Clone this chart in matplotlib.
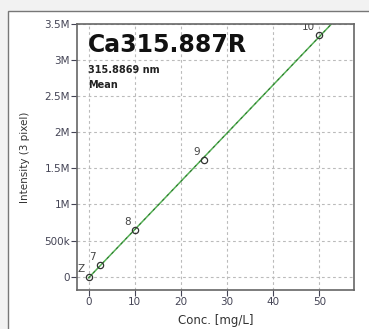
import numpy as np
import matplotlib.pyplot as plt
from matplotlib.patches import Rectangle

conc = [0, 2.5, 10, 25, 50]
intensity = [0, 0.155e6, 0.65e6, 1.615e6, 3.345e6]
labels = ["Z", "7", "8", "9", "10"]
yticks = [0, 0.5e6, 1e6, 1.5e6, 2e6, 2.5e6, 3e6, 3.5e6]
ytick_labels = ["0", "500k", "1M", "1.5M", "2M", "2.5M", "3M", "3.5M"]
xticks = [0, 10, 20, 30, 40, 50]

fig = plt.figure(figsize=(3.69, 3.29), dpi=100, facecolor="#f2f2f2")
fig.patches.append(Rectangle((8 / 369, -0.01), 1, 1.01 - 11 / 329, transform=fig.transFigure,
                             facecolor="white", edgecolor="#777777", lw=1.0, zorder=-5))
ax = fig.add_axes([77 / 369, 1 - 290 / 329, 277 / 369, 266 / 329])
ax.set_zorder(1)

# calibration fit through points
slope, icpt = np.polyfit(conc, intensity, 1)
xf = np.array([0, 57])
ax.plot(xf, slope * xf + icpt, color="#55b055", lw=1.1, zorder=2)
ax.plot(xf, slope * xf + icpt, color="#2a6a2a", lw=0.6, ls=(0, (3, 5)), zorder=3)
ax.plot(conc, intensity, "o", mfc="none", mec="#333333", ms=4.5, mew=0.9, zorder=4)
for x, y, t in zip(conc, intensity, labels):
    ax.annotate(t, (x, y), xytext=(-4, 3), textcoords="offset pixels", ha="right", va="bottom",
                fontsize=7.5, color="#444444", annotation_clip=False, clip_on=True)

ax.set_xlim(-2.5, 57.5)
ax.set_ylim(-0.185e6, 3.5e6)
ax.set_xticks(xticks)
ax.set_yticks(yticks)
ax.set_yticklabels(ytick_labels)
ax.tick_params(labelsize=7.5, colors="#444455", length=4, width=0.8, pad=1)
ax.grid(True, ls=(0, (2.5, 2.5)), color="#bbbbbb", lw=0.8)
for s in ax.spines.values():
    s.set_color("#666666")
    s.set_linewidth(1.2)
ax.set_xlabel("Conc. [mg/L]", fontsize=8.5, color="#333333", labelpad=5)
ax.set_ylabel("Intensity (3 pixel)", fontsize=7.5, color="#333333", labelpad=10)

ax.text(0.04, 0.965, "Ca315.887R", transform=ax.transAxes, fontsize=17, fontweight="bold",
        va="top", ha="left", color="#111111")
ax.text(0.04, 0.845, "315.8869 nm", transform=ax.transAxes, fontsize=7, fontweight="bold",
        va="top", ha="left", color="#222222")
ax.text(0.04, 0.79, "Mean", transform=ax.transAxes, fontsize=7, fontweight="bold",
        va="top", ha="left", color="#222222")

fig.savefig("out.png", dpi=100, facecolor=fig.get_facecolor())
